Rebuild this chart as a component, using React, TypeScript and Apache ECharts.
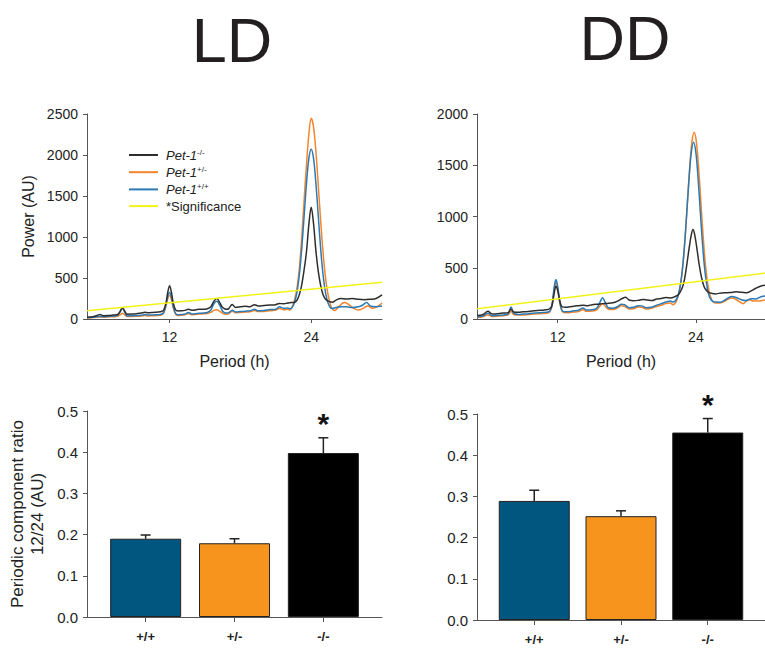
import React, { useEffect, useRef } from 'react';
import * as echarts from 'echarts';

const FONT = '"Liberation Sans", Arial, Helvetica, sans-serif';

// ---------- Periodogram data (period in h, power in AU) ----------
const ldKnockout: number[][] = [
  [5.0, 20], [5.5, 28], [5.9, 45], [6.1, 55], [6.4, 40], [6.8, 42], [7.2, 48], [7.6, 55], [7.8, 90], [8.0, 138],
  [8.2, 95], [8.4, 58], [8.8, 60], [9.2, 65], [9.6, 72], [9.9, 82], [10.2, 75], [10.6, 80], [11.0, 85], [11.3, 92],
  [11.5, 110], [11.7, 200], [11.85, 330], [12.0, 406], [12.15, 330], [12.3, 200], [12.5, 115], [12.7, 98], [13.0, 100],
  [13.3, 105], [13.6, 118], [13.9, 108], [14.2, 110], [14.5, 120], [14.8, 118], [15.2, 125], [15.5, 150], [15.75, 215],
  [16.0, 250], [16.25, 200], [16.5, 140], [16.8, 120], [17.0, 125], [17.3, 178], [17.6, 140], [18.0, 150], [18.4, 155],
  [18.8, 150], [19.2, 175], [19.5, 160], [20.0, 165], [20.5, 170], [21.0, 175], [21.3, 190], [21.7, 185], [22.0, 195],
  [22.3, 200], [22.6, 205], [22.8, 230], [23.0, 300], [23.2, 420], [23.4, 600], [23.6, 820], [23.8, 1150], [24.0, 1362],
  [24.2, 1160], [24.4, 830], [24.6, 580], [24.8, 410], [25.0, 300], [25.2, 245], [25.5, 215], [25.8, 205], [26.1, 230],
  [26.5, 250], [27.0, 245], [27.5, 250], [28.0, 240], [28.5, 235], [29.0, 240], [29.5, 250], [30.0, 293],
];
const ldHetero: number[][] = [
  [5.0, 12], [5.5, 18], [6.0, 24], [6.4, 22], [6.8, 25], [7.2, 28], [7.6, 32], [7.8, 50], [8.0, 70], [8.2, 50],
  [8.4, 30], [8.8, 32], [9.2, 34], [9.6, 36], [9.9, 42], [10.2, 38], [10.6, 40], [11.0, 42], [11.3, 48], [11.5, 70],
  [11.7, 160], [11.85, 250], [12.0, 290], [12.15, 240], [12.3, 140], [12.5, 60], [12.7, 42], [13.0, 45], [13.3, 50],
  [13.6, 68], [13.9, 52], [14.2, 55], [14.5, 60], [14.8, 62], [15.2, 68], [15.5, 80], [15.75, 105], [16.0, 112],
  [16.25, 95], [16.5, 70], [16.8, 58], [17.0, 62], [17.3, 95], [17.6, 75], [18.0, 80], [18.4, 85], [18.8, 88],
  [19.2, 105], [19.5, 90], [20.0, 92], [20.5, 100], [21.0, 108], [21.3, 128], [21.7, 112], [22.0, 118], [22.2, 110],
  [22.4, 150], [22.6, 240], [22.8, 380], [23.0, 620], [23.2, 1000], [23.4, 1450], [23.6, 1880], [23.8, 2250],
  [24.0, 2447], [24.2, 2340], [24.4, 2040], [24.6, 1630], [24.8, 1200], [25.0, 820], [25.2, 520], [25.4, 320],
  [25.6, 190], [25.8, 120], [26.0, 105], [26.4, 160], [26.8, 200], [27.1, 185], [27.5, 140], [28.0, 110], [28.4, 130],
  [28.8, 160], [29.2, 130], [29.6, 150], [30.0, 195],
];
const ldWildtype: number[][] = [
  [5.0, 18], [5.5, 22], [6.0, 30], [6.4, 28], [6.8, 32], [7.2, 35], [7.6, 45], [7.8, 85], [8.0, 135], [8.2, 85],
  [8.4, 38], [8.8, 40], [9.2, 42], [9.6, 45], [9.9, 55], [10.2, 48], [10.6, 50], [11.0, 52], [11.3, 58], [11.5, 80],
  [11.7, 180], [11.85, 280], [12.0, 322], [12.15, 270], [12.3, 160], [12.5, 70], [12.7, 52], [13.0, 55], [13.3, 60],
  [13.6, 78], [13.9, 62], [14.2, 65], [14.5, 70], [14.8, 72], [15.2, 80], [15.5, 110], [15.75, 185], [16.0, 215],
  [16.25, 165], [16.5, 95], [16.8, 72], [17.0, 75], [17.3, 108], [17.6, 85], [18.0, 90], [18.4, 95], [18.8, 100],
  [19.2, 118], [19.5, 100], [20.0, 105], [20.5, 115], [21.0, 120], [21.3, 148], [21.7, 130], [22.0, 135], [22.2, 125],
  [22.4, 144], [22.6, 207], [22.8, 332], [23.0, 546], [23.2, 861], [23.4, 1254], [23.6, 1652], [23.8, 1956],
  [24.0, 2069], [24.2, 1956], [24.4, 1652], [24.6, 1254], [24.8, 861], [25.0, 546], [25.2, 332], [25.4, 207],
  [25.6, 144], [25.8, 128], [26.1, 140], [26.5, 150], [27.0, 148], [27.5, 140], [28.0, 150], [28.3, 165], [28.7, 200],
  [29.0, 160], [29.5, 150], [30.0, 158],
];
const ddKnockout: number[][] = [
  [5.0, 35], [5.5, 42], [5.95, 75], [6.3, 50], [6.8, 52], [7.3, 58], [7.7, 62], [7.95, 95], [8.2, 68], [8.6, 66],
  [9.0, 70], [9.5, 74], [10.0, 80], [10.5, 85], [11.0, 90], [11.3, 100], [11.5, 130], [11.7, 250], [11.85, 320],
  [12.0, 280], [12.2, 170], [12.4, 118], [12.7, 115], [13.0, 118], [13.4, 125], [13.8, 130], [14.2, 135], [14.6, 130],
  [15.0, 140], [15.5, 145], [15.9, 150], [16.3, 152], [16.8, 158], [17.2, 175], [17.6, 200], [17.9, 212], [18.2, 185],
  [18.6, 178], [19.0, 182], [19.4, 190], [19.8, 185], [20.2, 180], [20.6, 195], [21.0, 200], [21.4, 210], [21.8, 205],
  [22.2, 220], [22.5, 240], [22.8, 300], [23.0, 380], [23.2, 520], [23.4, 680], [23.6, 820], [23.75, 872], [23.9, 820],
  [24.1, 680], [24.3, 520], [24.5, 400], [24.7, 320], [24.9, 280], [25.1, 260], [25.4, 250], [25.7, 245], [26.0, 250],
  [26.5, 255], [27.0, 258], [27.5, 265], [28.0, 260], [28.4, 255], [28.8, 275], [29.2, 300], [29.6, 320], [30.0, 330],
];
const ddHetero: number[][] = [
  [5.0, 15], [5.5, 22], [5.95, 40], [6.3, 25], [6.8, 28], [7.3, 32], [7.7, 40], [7.95, 75], [8.2, 42], [8.6, 38],
  [9.0, 40], [9.5, 44], [10.0, 48], [10.5, 52], [11.0, 56], [11.3, 65], [11.5, 120], [11.7, 290], [11.85, 360],
  [12.0, 300], [12.2, 150], [12.4, 72], [12.7, 60], [13.0, 62], [13.4, 68], [13.8, 72], [14.2, 90], [14.5, 75],
  [15.0, 78], [15.4, 90], [15.7, 130], [15.9, 150], [16.1, 130], [16.4, 95], [16.8, 92], [17.2, 108], [17.5, 130],
  [17.8, 125], [18.2, 98], [18.6, 100], [19.0, 118], [19.3, 115], [19.7, 98], [20.1, 102], [20.5, 118], [21.0, 135],
  [21.4, 150], [21.8, 155], [22.0, 140], [22.25, 160], [22.45, 225], [22.65, 328], [22.85, 506], [23.05, 775],
  [23.25, 1111], [23.45, 1457], [23.65, 1721], [23.85, 1821], [24.05, 1721], [24.25, 1457], [24.45, 1111],
  [24.65, 775], [24.85, 506], [25.05, 328], [25.25, 225], [25.45, 174], [25.7, 155], [26.1, 156], [26.6, 180],
  [27.1, 205], [27.5, 190], [28.1, 150], [28.6, 190], [29.0, 175], [29.5, 176], [30.0, 185],
];
const ddWildtype: number[][] = [
  [5.0, 20], [5.5, 28], [5.95, 55], [6.3, 32], [6.8, 35], [7.3, 40], [7.7, 50], [7.95, 117], [8.2, 55], [8.6, 45],
  [9.0, 48], [9.5, 52], [10.0, 58], [10.5, 62], [11.0, 66], [11.3, 75], [11.5, 130], [11.7, 310], [11.85, 385],
  [12.0, 320], [12.2, 160], [12.4, 80], [12.7, 70], [13.0, 72], [13.4, 80], [13.8, 85], [14.2, 107], [14.5, 88],
  [15.0, 90], [15.4, 105], [15.7, 170], [15.9, 208], [16.1, 170], [16.4, 110], [16.8, 105], [17.2, 120], [17.5, 145],
  [17.8, 140], [18.2, 110], [18.6, 115], [19.0, 130], [19.3, 128], [19.7, 110], [20.1, 115], [20.5, 130], [21.0, 150],
  [21.4, 165], [21.8, 175], [22.0, 165], [22.2, 175], [22.4, 211], [22.6, 296], [22.8, 451], [23.0, 696],
  [23.2, 1019], [23.4, 1359], [23.6, 1623], [23.8, 1724], [24.0, 1623], [24.2, 1359], [24.4, 1019], [24.6, 696],
  [24.8, 451], [25.0, 296], [25.2, 211], [25.5, 170], [25.8, 165], [26.1, 163], [26.6, 190], [27.1, 220],
  [27.5, 210], [28.0, 185], [28.4, 180], [28.8, 198], [29.2, 195], [29.6, 215], [30.0, 225],
];
const significance: number[][] = [[5, 100], [30, 448]];

const periodTicks = [12, 24];

// ---------- Bar data ----------
const genotypes = ['+/+', '+/-', '-/-'];
const ldRatio = [0.19, 0.179, 0.398];
const ldSem = [0.009, 0.011, 0.037];
const ddRatio = [0.289, 0.252, 0.455];
const ddSem = [0.026, 0.013, 0.034];
const significant = [0, 0, 1];

const COLORS = {
  ko: '#2e2e2e',
  het: '#f5842a',
  wt: '#2a7ab8',
  sig: '#f2f218',
  axis: '#555555',
  text: '#222222',
};
const barColors = ['#00567f', '#f7941e', '#000000'];

const NAME_KO = 'Pet-1-/-';
const NAME_HET = 'Pet-1+/-';
const NAME_WT = 'Pet-1+/+';
const NAME_SIG = '*Significance';

function lineSeries(name: string, data: number[][], color: string, idx: number) {
  return {
    type: 'line',
    name,
    data,
    xAxisIndex: idx,
    yAxisIndex: idx,
    symbol: 'none',
    smooth: 0.35,
    lineStyle: { color, width: 1.5 },
    itemStyle: { color },
    z: 2,
  };
}

function periodXAxis(gridIndex: number) {
  return {
    type: 'value',
    gridIndex,
    min: 5,
    max: 30,
    name: 'Period (h)',
    nameLocation: 'middle',
    nameGap: 34,
    nameTextStyle: { fontFamily: FONT, fontSize: 16, color: COLORS.text },
    axisLine: { show: true, onZero: false, lineStyle: { color: COLORS.axis, width: 1 } },
    axisTick: { show: true, customValues: periodTicks, length: 4, lineStyle: { color: COLORS.axis } },
    axisLabel: { customValues: periodTicks, margin: 11, fontFamily: FONT, fontSize: 14, color: COLORS.text },
    splitLine: { show: false },
  };
}

function powerYAxis(gridIndex: number, max: number, withName: boolean) {
  return {
    type: 'value',
    gridIndex,
    min: 0,
    max,
    interval: 500,
    name: withName ? 'Power (AU)' : '',
    nameLocation: 'middle',
    nameGap: 51,
    nameRotate: 90,
    nameTextStyle: { fontFamily: FONT, fontSize: 16, color: COLORS.text },
    axisLine: { show: true, lineStyle: { color: COLORS.axis, width: 1 } },
    axisTick: { show: true, length: 4, lineStyle: { color: COLORS.axis } },
    axisLabel: {
      margin: 9,
      fontFamily: FONT,
      fontSize: 14,
      color: COLORS.text,
      formatter: (v: number) => String(v),
    },
    splitLine: { show: false },
  };
}

function barXAxis(gridIndex: number) {
  return {
    type: 'value',
    gridIndex,
    min: 0.34,
    max: 3.66,
    axisLine: { show: true, onZero: false, lineStyle: { color: COLORS.axis, width: 1 } },
    axisTick: { show: true, customValues: [1, 2, 3], length: 5, lineStyle: { color: COLORS.axis } },
    axisLabel: {
      customValues: [1, 2, 3],
      formatter: (v: number) => genotypes[Math.round(v) - 1] ?? '',
      margin: 13,
      fontFamily: FONT,
      fontSize: 13,
      fontWeight: 'bold',
      color: COLORS.text,
    },
    splitLine: { show: false },
  };
}

function ratioYAxis(gridIndex: number, withName: boolean) {
  return {
    type: 'value',
    gridIndex,
    min: 0,
    max: 0.5,
    interval: 0.1,
    name: withName ? 'Periodic component ratio\n12/24 (AU)' : '',
    nameLocation: 'middle',
    nameGap: 40,
    nameRotate: 90,
    nameTextStyle: { fontFamily: FONT, fontSize: 17, lineHeight: 20, color: COLORS.text, align: 'center' },
    axisLine: { show: true, lineStyle: { color: COLORS.axis, width: 1 } },
    axisTick: { show: true, length: 4, lineStyle: { color: COLORS.axis } },
    axisLabel: {
      margin: 9,
      fontFamily: FONT,
      fontSize: 15,
      color: COLORS.text,
      formatter: (v: number) => v.toFixed(1),
    },
    splitLine: { show: false },
  };
}

function barSeries(values: number[], idx: number) {
  return {
    type: 'bar',
    xAxisIndex: idx,
    yAxisIndex: idx,
    barWidth: 71,
    data: values.map((v, i) => ({
      value: [i + 1, v],
      itemStyle: { color: barColors[i], borderColor: '#222', borderWidth: 1 },
    })),
    z: 2,
  };
}

function errorSeries(values: number[], sems: number[], idx: number) {
  return {
    type: 'custom',
    xAxisIndex: idx,
    yAxisIndex: idx,
    z: 3,
    clip: false,
    data: values.map((v, i) => [i + 1, v, sems[i], significant[i]]),
    renderItem: (_params: any, api: any) => {
      const x = api.value(0);
      const v = api.value(1);
      const e = api.value(2);
      const sig = api.value(3);
      const base = api.coord([x, v]);
      const top = api.coord([x, v + e]);
      const stroke = { stroke: '#222', lineWidth: 1.5 };
      const children: any[] = [
        { type: 'line', shape: { x1: base[0], y1: base[1], x2: top[0], y2: top[1] }, style: stroke },
        { type: 'line', shape: { x1: top[0] - 5, y1: top[1], x2: top[0] + 5, y2: top[1] }, style: stroke },
      ];
      if (sig) {
        children.push({
          type: 'text',
          x: top[0],
          y: top[1] - 14,
          style: {
            text: '*',
            fontFamily: FONT,
            fontSize: 30,
            fontWeight: 'bold',
            fill: '#111',
            align: 'center',
            verticalAlign: 'middle',
          },
        });
      }
      return { type: 'group', children };
    },
  };
}

export default function App() {
  const ref = useRef<HTMLDivElement>(null);

  useEffect(() => {
    if (!ref.current) return;
    const chart = echarts.init(ref.current, null, { renderer: 'svg' });
    const option: any = {
      animation: false,
      backgroundColor: '#ffffff',
      textStyle: { fontFamily: FONT },
      graphic: [
        {
          type: 'text',
          x: 232,
          y: 40,
          style: { text: 'LD', fontFamily: FONT, fontSize: 63, fill: '#231f20', align: 'center', verticalAlign: 'middle' },
        },
        {
          type: 'text',
          x: 625,
          y: 38,
          style: { text: 'DD', fontFamily: FONT, fontSize: 63, fill: '#231f20', align: 'center', verticalAlign: 'middle' },
        },
      ],
      legend: {
        orient: 'vertical',
        left: 129,
        top: 148,
        padding: 0,
        icon: 'rect',
        itemWidth: 29,
        itemHeight: 2,
        itemGap: 3.7,
        selectedMode: false,
        data: [NAME_KO, NAME_HET, NAME_WT, NAME_SIG],
        formatter: (name: string) =>
          name.startsWith('Pet-1') ? `{i|Pet-1}{s|${name.slice(5)}}` : `{n|${name}}`,
        textStyle: {
          fontFamily: FONT,
          fontSize: 13,
          color: COLORS.text,
          rich: {
            i: { fontFamily: FONT, fontSize: 13, fontStyle: 'italic', lineHeight: 14, color: COLORS.text, padding: [0, 0, 0, 3] },
            s: { fontFamily: FONT, fontSize: 8, lineHeight: 8, verticalAlign: 'top', color: COLORS.text },
            n: { fontFamily: FONT, fontSize: 13, lineHeight: 14, color: COLORS.text, padding: [0, 0, 0, 3] },
          },
        },
      },
      grid: [
        { left: 87, top: 114, width: 295, height: 205 },
        { left: 477, top: 114, width: 294, height: 205 },
        { left: 87, top: 411, width: 295, height: 206 },
        { left: 477, top: 414, width: 295, height: 206 },
      ],
      xAxis: [periodXAxis(0), periodXAxis(1), barXAxis(2), barXAxis(3)],
      yAxis: [powerYAxis(0, 2500, true), powerYAxis(1, 2000, false), ratioYAxis(2, true), ratioYAxis(3, false)],
      series: [
        lineSeries(NAME_HET, ldHetero, COLORS.het, 0),
        lineSeries(NAME_WT, ldWildtype, COLORS.wt, 0),
        lineSeries(NAME_KO, ldKnockout, COLORS.ko, 0),
        { ...lineSeries(NAME_SIG, significance, COLORS.sig, 0), smooth: false, z: 4 },
        lineSeries(NAME_HET, ddHetero, COLORS.het, 1),
        lineSeries(NAME_WT, ddWildtype, COLORS.wt, 1),
        lineSeries(NAME_KO, ddKnockout, COLORS.ko, 1),
        { ...lineSeries(NAME_SIG, significance, COLORS.sig, 1), smooth: false, z: 4 },
        barSeries(ldRatio, 2),
        errorSeries(ldRatio, ldSem, 2),
        barSeries(ddRatio, 3),
        errorSeries(ddRatio, ddSem, 3),
      ],
    };
    chart.setOption(option);
    return () => chart.dispose();
  }, []);

  return (
    <div
      ref={ref}
      style={{ position: 'absolute', left: 0, top: 0, width: 765, height: 653, background: '#fff' }}
    />
  );
}
